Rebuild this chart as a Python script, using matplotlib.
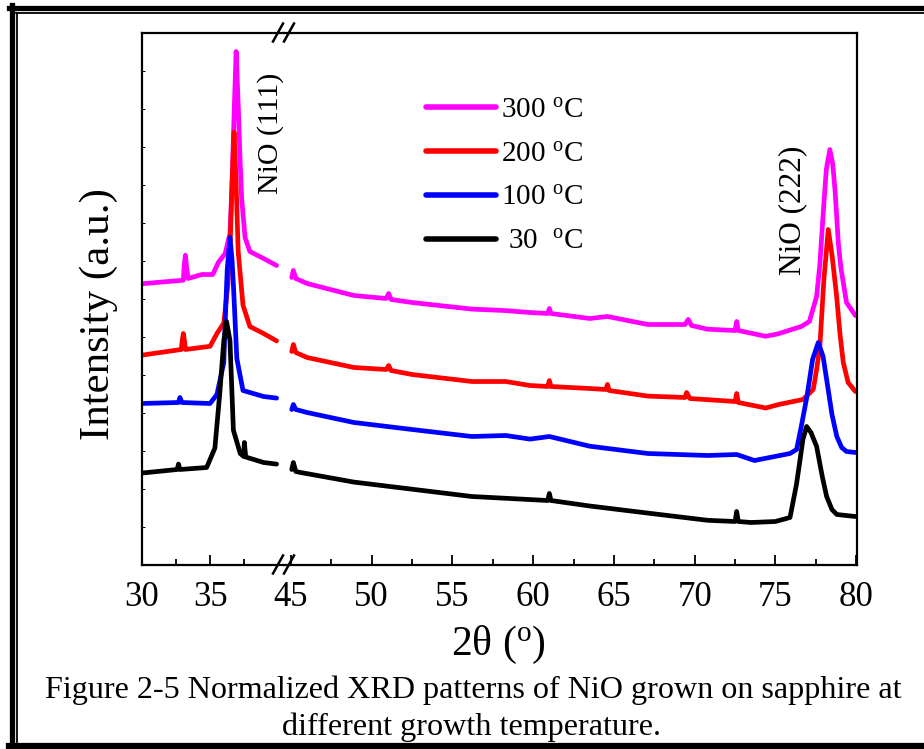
import matplotlib
matplotlib.use("Agg")
import matplotlib.pyplot as plt
from matplotlib.lines import Line2D
import numpy as np

plt.rcParams['font.family'] = ['Liberation Serif', 'DejaVu Serif']
plt.rcParams['mathtext.fontset'] = 'custom'
plt.rcParams['mathtext.rm'] = 'Liberation Serif'
plt.rcParams['mathtext.it'] = 'Liberation Serif:italic'

# ---------------- data (arbitrary intensity units) ----
labels = ['300 $^{\\rm o}$C', '200 $^{\\rm o}$C', '100 $^{\\rm o}$C', ' 30  $^{\\rm o}$C']
colors = ['#ff00ff', '#ff0000', '#0000ff', '#000000']

# low-angle segment (30-40 deg)
m_lo_x = [30.0, 33.05, 33.12, 33.2, 33.28, 33.4, 34.4, 35.2, 35.6, 36.1, 36.45, 36.6, 36.75, 36.9, 37.05, 37.2, 37.3, 37.55, 37.9, 38.9, 39.85]
m_lo_y = [280.7, 284.3, 300, 309.3, 298, 286, 290, 290, 302, 311, 331, 380, 450, 513, 460, 400, 366.4, 327, 313, 306, 299]
r_lo_x = [30.0, 32.9, 32.98, 33.05, 33.13, 33.2, 35.0, 35.5, 36.0, 36.3, 36.45, 36.6, 36.75, 36.9, 37.05, 37.4, 37.9, 38.9, 39.85]
r_lo_y = [209.3, 215, 225, 231, 224, 215, 218.2, 231, 241.4, 280, 313, 380, 432.5, 380, 313, 259.3, 238, 231, 223.6]
b_lo_x = [30.0, 32.7, 32.8, 32.95, 35.0, 35.5, 36.0, 36.15, 36.25, 36.45, 36.6, 36.7, 36.95, 37.4, 38.9, 39.85]
b_lo_y = [161, 162, 167, 162, 161, 170, 202, 260, 295, 327, 305, 280, 206, 174, 168, 166.4]
k_lo_x = [30.0, 32.6, 32.7, 32.8, 34.75, 35.35, 35.7, 36.0, 36.2, 36.45, 36.6, 36.7, 37.2, 37.45, 37.5, 37.6, 38.9, 39.85]
k_lo_y = [91.4, 95, 100.4, 95, 97, 116.4, 170, 223.6, 243, 224, 170, 134.3, 111, 108, 122, 107.5, 102, 100.4]

# high-angle segment (45-80 deg)
m_hi_x = [45.05, 45.15, 45.3, 46.0, 48.9, 50.9, 51.05, 51.2, 52.5, 56.2, 58.2, 59.8, 60.9, 61.0, 61.1, 63.5, 64.6, 67.1, 69.4, 69.6, 69.8, 70.8, 72.5, 72.6, 72.7, 74.4, 75.15, 76.6, 77.1, 77.55, 77.75, 77.96, 78.15, 78.37, 78.55, 78.7, 78.9, 79.05, 79.4, 79.95]
m_hi_y = [287, 294, 286, 281, 269, 266, 271, 265, 262, 255.4, 254, 252, 251, 256, 251, 246, 248, 240, 240, 245, 239, 235.3, 234, 243, 234, 228.2, 230.6, 238, 243, 268, 300, 352, 395, 415, 400, 372, 320, 297, 262, 249]
r_hi_x = [45.05, 45.15, 45.3, 46.0, 48.9, 50.9, 51.05, 51.2, 52.5, 56.2, 58.3, 59.8, 60.9, 61.0, 61.1, 63.5, 64.5, 64.6, 64.7, 67.1, 69.4, 69.5, 69.7, 72.5, 72.6, 72.7, 74.4, 75.2, 76.7, 77.34, 77.55, 77.75, 78.0, 78.27, 78.5, 78.79, 79.0, 79.2, 79.5, 79.95]
r_hi_y = [213, 220, 212, 207, 197, 195, 199, 194, 190, 183, 183, 179, 178, 184, 178, 176, 175, 180, 174, 168.4, 167, 172, 166, 163, 171, 162, 156.5, 160, 165, 175, 195, 218, 285, 335, 310, 268, 230, 202, 182, 173]
b_hi_x = [45.05, 45.15, 45.3, 46.0, 48.9, 52.5, 56.2, 58.3, 59.8, 61.0, 63.5, 67.1, 70.8, 72.6, 73.7, 75.9, 76.31, 76.6, 76.95, 77.3, 77.65, 77.95, 78.17, 78.5, 78.8, 79.1, 79.4, 79.95]
b_hi_y = [155, 160, 155, 152, 142, 135, 128, 129, 125.4, 128, 118.3, 111, 109, 110, 104, 111, 115, 138, 168, 205, 222, 208, 185, 150, 128, 117, 113, 112]
k_hi_x = [45.05, 45.15, 45.3, 45.6, 48.9, 52.5, 56.2, 60.9, 61.0, 61.1, 63.5, 67.1, 70.8, 72.5, 72.6, 72.7, 73.5, 75.0, 75.9, 76.0, 76.3, 76.5, 76.7, 76.93, 77.2, 77.55, 77.9, 78.17, 78.5, 78.8, 79.95]
k_hi_y = [95, 102, 93, 92, 82.4, 75.3, 68, 64, 71, 64, 58.5, 51.4, 44.2, 43, 53, 43, 42, 43, 47, 55, 80, 102, 125, 138, 132, 118, 88, 68, 55, 50, 48]

lo_x = [m_lo_x, r_lo_x, b_lo_x, k_lo_x]
lo_y = [m_lo_y, r_lo_y, b_lo_y, k_lo_y]
hi_x = [m_hi_x, r_hi_x, b_hi_x, k_hi_x]
hi_y = [m_hi_y, r_hi_y, b_hi_y, k_hi_y]

lo_major = [30, 35]
lo_minor = [32.5, 37.5]
hi_major = [45, 50, 55, 60, 65, 70, 75, 80]
hi_minor = [47.5, 52.5, 57.5, 62.5, 67.5, 72.5, 77.5]

# ---------------- figure ----------------
W, H = 924, 749
fig = plt.figure(figsize=(W / 100, H / 100), dpi=100)

def fx(px):
    return px / W

def fy(py):
    return 1 - py / H

ax_left, ax_break, ax_right = 141.5, 284.0, 857.0
ax_top, ax_bot = 32.5, 564.5

ax1 = fig.add_axes([fx(ax_left), fy(ax_bot), fx(ax_break - ax_left), (ax_bot - ax_top) / H])
ax2 = fig.add_axes([fx(ax_break), fy(ax_bot), fx(ax_right - ax_break), (ax_bot - ax_top) / H])

ax1.set_xlim(30, 40.39)
ax2.set_xlim(44.57, 80.05)
for ax in (ax1, ax2):
    ax.set_ylim(0, 532)
    for s in ax.spines.values():
        s.set_linewidth(1.6)

ax1.spines['right'].set_visible(False)
ax2.spines['left'].set_visible(False)

lw = 3.4
handles = []
for i in range(4):
    h, = ax1.plot(lo_x[i], lo_y[i], color=colors[i], lw=lw, solid_joinstyle='round', solid_capstyle='round')
    ax2.plot(hi_x[i], hi_y[i], color=colors[i], lw=lw, solid_joinstyle='round', solid_capstyle='round')
    handles.append(h)

# ticks
ax1.set_xticks(lo_major)
ax1.set_xticks(lo_minor, minor=True)
ax2.set_xticks(hi_major)
ax2.set_xticks(hi_minor, minor=True)
for ax in (ax1, ax2):
    ax.tick_params(axis='x', which='major', direction='in', length=7.5, width=1.3,
                   labelsize=25, pad=12, top=False)
    ax.tick_params(axis='x', which='minor', direction='in', length=4, width=1.3, top=False)
ax1.set_yticks(np.arange(0, 532, 38))
ax1.tick_params(axis='y', which='major', direction='in', length=2.5, width=0.7, labelleft=False)
ax2.set_yticks([])

# break marks
for yb in (ax_top, ax_bot):
    for dx in (-6, 5):
        x0, y0 = ax_break + dx - 5, yb + 9
        x1, y1 = ax_break + dx + 5, yb - 9
        fig.add_artist(Line2D([fx(x0), fx(x1)], [fy(y0), fy(y1)], color='black', lw=1.8))

# labels
fig.text(fx(99), fy(314), 'Intensity (a.u.)', rotation=90, ha='center', va='center', fontsize=31)
fig.text(fx(498), fy(645), '2\u03b8 ($^{\\rm o}$)', ha='center', va='center', fontsize=30)

fig.text(fx(271), fy(133), 'NiO (111)', rotation=90, ha='center', va='center', fontsize=21.5)
fig.text(fx(793), fy(210), 'NiO (222)', rotation=90, ha='center', va='center', fontsize=22.5)

leg = fig.legend(handles, labels, loc='upper left', bbox_to_anchor=(fx(426), fy(97)),
                 frameon=False, fontsize=21, handlelength=2.4, handletextpad=0.17,
                 labelspacing=0.6, borderpad=0, borderaxespad=0)
for l in leg.get_lines():
    l.set_linewidth(4)

fig.text(fx(473), fy(690), 'Figure 2-5 Normalized XRD patterns of NiO grown on sapphire at',
         ha='center', va='center', fontsize=23.1)
fig.text(fx(472), fy(727), 'different growth temperature.', ha='center', va='center', fontsize=23.1)

# page border
fig.add_artist(Line2D([fx(9), fx(924)], [fy(7.5), fy(7.5)], color='black', lw=3.8))
fig.add_artist(Line2D([fx(11.5), fx(11.5)], [fy(5), fy(749)], color='black', lw=3.8))
fig.add_artist(Line2D([fx(16), fx(924)], [fy(13.2), fy(13.2)], color='black', lw=1.3))
fig.add_artist(Line2D([fx(17), fx(17)], [fy(12.5), fy(742)], color='black', lw=1.3))
fig.add_artist(Line2D([fx(9), fx(924)], [fy(746), fy(746)], color='black', lw=4.5))

fig.savefig('out.png', dpi=100)
